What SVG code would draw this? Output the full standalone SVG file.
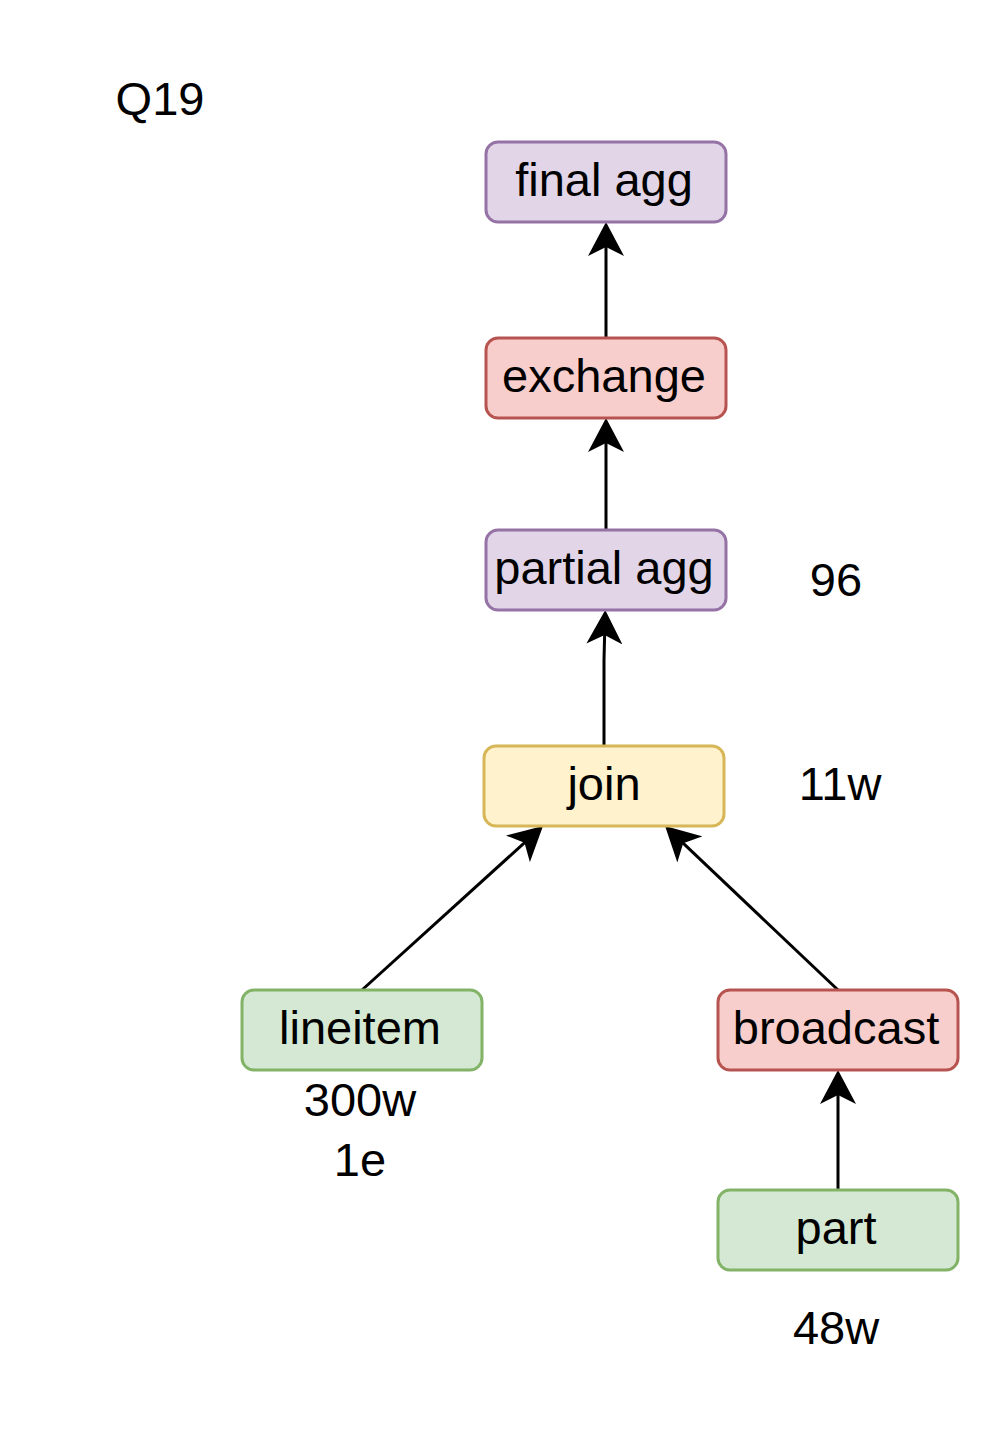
<svg xmlns="http://www.w3.org/2000/svg" width="1000" height="1436" viewBox="0 0 1000 1436">
<style>
text{font-family:"Liberation Sans",Arial,sans-serif;font-size:47px;fill:#000;text-anchor:middle;dominant-baseline:central}
.n rect{stroke-width:3}
.purple{fill:#e1d5e7;stroke:#9673a6}
.red{fill:#f8cecc;stroke:#b85450}
.yellow{fill:#fff2cc;stroke:#d6b656}
.green{fill:#d5e8d4;stroke:#82b366}
.e{stroke:#000;stroke-width:3;fill:none;marker-end:url(#arr)}
</style>
<defs>
<marker id="arr" markerUnits="userSpaceOnUse" markerWidth="34" markerHeight="36" viewBox="0 0 34 36" refX="24" refY="18" orient="auto">
<path d="M34 18 L0 0 L9 18 L0 36 Z" fill="#000"/>
</marker>
</defs>
<rect width="1000" height="1436" fill="#fff"/>
<g id="connectors">
<path class="e" d="M606 338 L606 232"/>
<path class="e" d="M606 530 L606 428"/>
<path class="e" d="M604 746 L604 660 L605 620"/>
<path class="e" d="M362 990 L535.6 832.7"/>
<path class="e" d="M838 990 L672.3 832.9"/>
<path class="e" d="M838 1190 L838 1080"/>
</g>
<g id="final-agg" class="n"><rect class="purple" x="486" y="142" width="240" height="80" rx="12"/><text x="604" y="179">final agg</text></g>
<g id="exchange" class="n"><rect class="red" x="486" y="338" width="240" height="80" rx="12"/><text x="604" y="375">exchange</text></g>
<g id="partial-agg" class="n"><rect class="purple" x="486" y="530" width="240" height="80" rx="12"/><text x="604" y="567">partial agg</text></g>
<g id="join" class="n"><rect class="yellow" x="484" y="746" width="240" height="80" rx="12"/><text x="604" y="783">join</text></g>
<g id="lineitem" class="n"><rect class="green" x="242" y="990" width="240" height="80" rx="12"/><text x="360" y="1027">lineitem</text></g>
<g id="broadcast" class="n"><rect class="red" x="718" y="990" width="240" height="80" rx="12"/><text x="836" y="1027">broadcast</text></g>
<g id="part" class="n"><rect class="green" x="718" y="1190" width="240" height="80" rx="12"/><text x="836" y="1227">part</text></g>
<g id="labels">
<text x="160" y="98">Q19</text>
<text x="836" y="579">96</text>
<text x="840" y="783">11w</text>
<text x="360" y="1099">300w</text>
<text x="360" y="1159">1e</text>
<text x="836" y="1327">48w</text>
</g>
</svg>
